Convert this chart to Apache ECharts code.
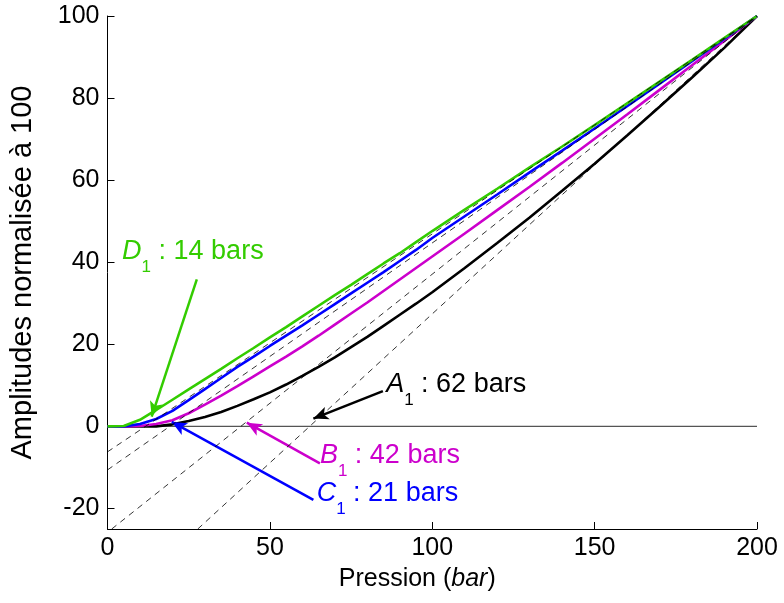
<!DOCTYPE html>
<html>
<head>
<meta charset="utf-8">
<script src="https://cdn.jsdelivr.net/npm/echarts@6/dist/echarts.min.js"></script>
<style>html,body{margin:0;padding:0;background:#fff}#c{width:784px;height:603px}</style>
</head>
<body>
<div id="c"></div>
<script>
// ---- data ----
const pressure = [0,5,10,15,20,25,30,35,40,45,50,55,60,65,70,75,80,85,90,95,100,110,120,130,140,150,160,170,180,190,200];
const ampD1 = [0,0.1,1.6,4.0,6.5,9.0,11.5,14.0,16.6,19.1,21.7,24.2,26.8,29.4,32.0,34.5,37.1,39.7,42.2,44.9,47.6,52.8,57.9,63.1,68.2,73.4,78.7,84.0,89.3,94.7,100];
const ampC1 = [0,0,0.6,1.8,3.8,6.4,9.1,11.8,14.5,17.0,19.6,22.1,24.6,27.2,29.8,32.4,35.0,37.6,40.3,43.0,45.9,51.2,56.5,61.9,67.2,72.6,78.0,83.5,89.0,94.5,100];
const ampB1 = [0,0,0.1,0.6,1.5,3.2,5.3,7.5,9.8,12.2,14.6,17.0,19.5,22.1,24.8,27.5,30.2,33.0,35.8,38.6,41.4,47.0,52.7,58.4,64.2,70.1,76.0,82.0,88.0,94.0,100];
const ampA1 = [0,0,0,0,0.5,1.3,2.3,3.5,5.0,6.6,8.3,10.2,12.3,14.5,16.8,19.3,21.8,24.5,27.2,29.9,32.7,38.6,44.7,50.9,57.4,64.0,70.9,77.9,85.0,92.3,100];

// dashed asymptotes (start point, end point)
const tangentD1 = [[0,-6.2],[200,100]];
const tangentC1 = [[0,-10.6],[200,100]];
const tangentB1 = [[1.3,-25],[200,100]];
const tangentA1 = [[27.8,-25],[200,100]];
const zeroLine = [[0,0],[200,0]];

// annotation arrows: [from, to]
const arrowD1 = [[27.5,35.8],[13.6,2.4]];
const arrowC1 = [[63.4,-17.9],[19.8,1.1]];
const arrowB1 = [[65.4,-9.0],[42.9,0.9]];
const arrowA1 = [[84.8,8.6],[63.4,1.9]];
// annotation label anchors and texts
const labelD1 = {at:[4.5,42.6], name:'D', sub:'1', text:' : 14 bars'};
const labelC1 = {at:[64.4,-16.3], name:'C', sub:'1', text:' : 21 bars'};
const labelB1 = {at:[65.4,-7.1], name:'B', sub:'1', text:' : 42 bars'};
const labelA1 = {at:[85.8,10.2], name:'A', sub:'1', text:' : 62 bars'};

const xTicks = [0,50,100,150,200];
const yTicks = [-20,0,20,40,60,80,100];
const xTitle = ['Pression (', 'bar', ')'];
const yTitle = 'Amplitudes normalisée à 100';

// ---- chart ----
const FONT = "'Liberation Sans', Arial, Helvetica, sans-serif";
const GREEN = '#33cc00', BLUE = '#0000ff', MAGENTA = '#cc00cc', BLACK = '#000000';

function pairs(ys){ return pressure.map((x,i)=>[x, ys[i]]); }

function richFor(color){
  return {
    i:{fontSize:27, fontStyle:'italic', color:color, fontFamily:FONT, lineHeight:27},
    s:{fontSize:17, color:color, fontFamily:FONT, lineHeight:27, padding:[32,0,0,0]},
    n:{fontSize:27, color:color, fontFamily:FONT, lineHeight:27}
  };
}

function curve(ys, color, arrow, label){
  return {
    type:'line', data:pairs(ys), showSymbol:false, symbol:'none', silent:true, z:3,
    lineStyle:{color:color, width:2.6}, itemStyle:{color:color},
    markLine:{
      silent:true, animation:false,
      symbol:['none','arrow'], symbolSize:[10,15],
      label:{show:false},
      lineStyle:{color:color, width:2.5, type:'solid'},
      emphasis:{disabled:true},
      data:[[{coord:arrow[0]},{coord:arrow[1]}]]
    },
    markPoint:{
      silent:true, animation:false,
      data:[{coord:label.at, symbol:'circle', symbolSize:0,
        label:{show:true, position:'right', distance:0,
          formatter:'{i|'+label.name+'}{s|'+label.sub+'}{n|'+label.text+'}',
          rich:richFor(color)}}]
    }
  };
}

function dashed(pts){
  return {type:'line', data:pts, symbol:'none', silent:true, z:5,
    lineStyle:{color:'#000', width:0.8, type:[6,5]}};
}

const chart = echarts.init(document.getElementById('c'), null, {renderer:'canvas'});
chart.setOption({
  animation:false,
  backgroundColor:'#fff',
  grid:{left:107.5, right:27, top:16, bottom:74, containLabel:false},
  xAxis:{
    type:'value', min:0, max:200, interval:50,
    axisLine:{show:true, onZero:false, lineStyle:{color:'#000', width:1}},
    axisTick:{show:true, inside:true, length:7, lineStyle:{color:'#000'}},
    axisLabel:{margin:7, fontSize:25, color:'#000', fontFamily:FONT},
    splitLine:{show:false},
    name:'{n|'+xTitle[0]+'}{i|'+xTitle[1]+'}{n|'+xTitle[2]+'}',
    nameLocation:'middle', nameGap:38,
    nameTextStyle:{padding:[0,30,0,0], rich:{
      n:{fontSize:25, color:'#000', fontFamily:FONT},
      i:{fontSize:25, color:'#000', fontFamily:FONT, fontStyle:'italic'}
    }}
  },
  yAxis:{
    type:'value', min:-25, max:100,
    axisLine:{show:true, onZero:false, lineStyle:{color:'#000', width:1}},
    axisTick:{show:true, inside:true, length:7, customValues:yTicks, lineStyle:{color:'#000'}},
    axisLabel:{margin:8, fontSize:25, color:'#000', fontFamily:FONT, customValues:yTicks},
    splitLine:{show:false},
    name:yTitle, nameLocation:'middle', nameGap:70,
    nameTextStyle:{fontSize:29, color:'#000', fontFamily:FONT}
  },
  series:[
    {type:'line', data:zeroLine, symbol:'none', silent:true, z:2,
      lineStyle:{color:'#555', width:1.2}},
    curve(ampA1, BLACK, arrowA1, labelA1),
    curve(ampB1, MAGENTA, arrowB1, labelB1),
    curve(ampC1, BLUE, arrowC1, labelC1),
    curve(ampD1, GREEN, arrowD1, labelD1),
    dashed(tangentA1), dashed(tangentB1), dashed(tangentC1), dashed(tangentD1)
  ]
});
</script>
</body>
</html>
